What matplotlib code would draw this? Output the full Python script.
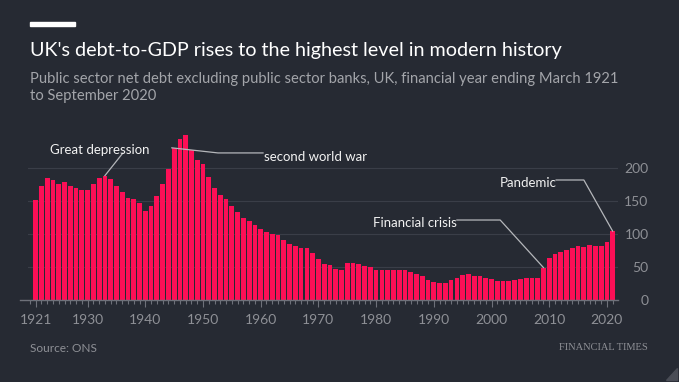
import matplotlib
matplotlib.use('Agg')
import matplotlib.pyplot as plt
import matplotlib.ticker as ticker
from matplotlib.patches import Polygon

# Public sector net debt, % of GDP (last bar = September 2020)
years = list(range(1921, 2022))
debt = [151, 173, 185, 181, 175, 178, 172, 169, 167, 167,
        176, 184, 188, 183, 173, 164, 154, 152, 146, 135,
        142, 157, 175, 198, 230, 244, 249, 226, 211, 205,
        186, 170, 159, 153, 142, 133, 124, 119, 114, 108,
        103, 100, 99, 91, 85, 81, 78, 78, 71, 62,
        55, 53, 47, 45, 56, 56, 55, 51, 50, 45,
        46, 45, 45, 45, 45, 42, 40, 36, 30, 27,
        25, 26, 30, 34, 38, 40, 37, 36, 34, 32,
        28, 28, 28, 30, 32, 33, 34, 34, 49, 63,
        70, 73, 76, 79, 81, 80, 83, 82, 81, 88,
        104]
xtick_years = [1921, 1930, 1940, 1950, 1960, 1970, 1980, 1990, 2000, 2010, 2020]
ytick_vals = [0, 50, 100, 150, 200]

bg = '#262a33'
bar_col = '#fc0f56'
grey = '#8e9096'
W, H = 679, 382

plt.rcParams['font.family'] = ['Lato', 'DejaVu Sans']

fig = plt.figure(figsize=(W / 100, H / 100), dpi=100)
fig.set_facecolor(bg)

def fx(p):
    return p / W

def fy(p):
    return 1 - p / H

ax = fig.add_axes([fx(28), (H - 300) / H, (618 - 28) / W, (300 - 131.3) / H])
ax.set_facecolor(bg)
ax.bar(years, debt, width=0.82, color=bar_col, zorder=3)
ax.set_xlim(1919.67, 2021.92)
ax.set_ylim(0, 255)

for s in ax.spines.values():
    s.set_visible(False)

# grid + baseline
for v in ytick_vals[1:]:
    ax.axhline(v, color='#3a3e48', lw=0.8, zorder=1)
ax.axhline(0, xmin=-0.013, xmax=1.0, color='#6e717a', lw=1.0, zorder=4, clip_on=False)

ax.yaxis.tick_right()
ax.set_yticks(ytick_vals)
ax.tick_params(axis='y', length=0, pad=22, labelsize=10, labelcolor=grey)
for lab in ax.get_yticklabels():
    lab.set_horizontalalignment('right')

ax.set_xticks(xtick_years)
ax.xaxis.set_minor_locator(ticker.MultipleLocator(1))
ax.tick_params(axis='x', which='major', length=5, width=0.8, color='#6e717a',
               pad=5, labelsize=10, labelcolor=grey)
ax.tick_params(axis='x', which='minor', length=3, width=0.8, color='#6e717a')

# annotations
line_kw = dict(color='#b5b7bb', lw=0.9, zorder=5, clip_on=False)
txt_kw = dict(color='#f2f2f2', fontsize=9.5, zorder=6)

ax.plot([1933, 1936.1], [188, 222], **line_kw)
ax.text(1923.5, 226.5, 'Great depression', ha='left', va='center', **txt_kw)

ax.plot([1944.6, 1952.6, 1960.4], [230, 222.3, 222.3], **line_kw)
ax.text(1960.5, 215.5, 'second world war', ha='left', va='center', **txt_kw)

ax.plot([1994.0, 2001.5, 2009], [120.9, 120.9, 49], **line_kw)
ax.text(1994.0, 115.8, 'Financial crisis', ha='right', va='center', **txt_kw)

ax.plot([2011.2, 2016.0, 2021], [181.4, 181.4, 104], **line_kw)
ax.text(2011.2, 177.6, 'Pandemic', ha='right', va='center', **txt_kw)

# header
fig.patches.append(plt.Rectangle((fx(30), fy(26)), fx(45), 4 / H, color='white',
                                 transform=fig.transFigure, figure=fig))
fig.text(fx(30), fy(50.5), "UK's debt-to-GDP rises to the highest level in modern history",
         color='white', fontsize=14.2, va='center', ha='left')
fig.text(fx(30), fy(79), 'Public sector net debt excluding public sector banks, UK, financial year ending March 1921',
         color='#a3a5aa', fontsize=10.6, va='center', ha='left')
fig.text(fx(30), fy(96), 'to September 2020',
         color='#a3a5aa', fontsize=10.6, va='center', ha='left')

# footer
fig.text(fx(30), fy(348), 'Source: ONS', color=grey, fontsize=8.6, va='center', ha='left')
fig.text(fx(648), fy(348), 'FINANCIAL TIMES', color=grey, fontsize=7.5, va='center', ha='right',
         family=['Liberation Serif', 'DejaVu Serif'])
fig.patches.append(Polygon([[fx(666), fy(380)], [fx(677), fy(380)], [fx(677), fy(368)]],
                           closed=True, color='#4a4d56', transform=fig.transFigure, figure=fig))

fig.savefig('out.png', dpi=100, facecolor=bg)
